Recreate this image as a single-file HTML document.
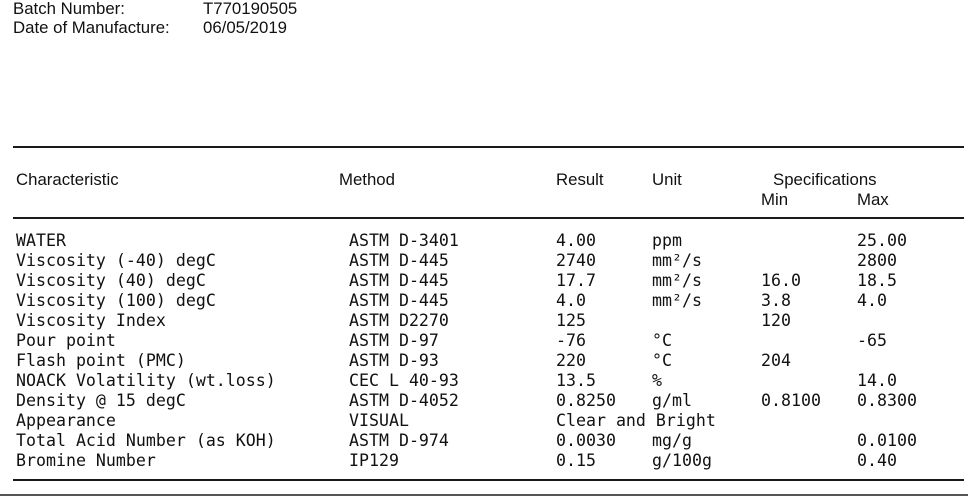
<!DOCTYPE html>
<html>
<head>
<meta charset="utf-8">
<style>
html,body{margin:0;padding:0;background:#fff;}
body{width:968px;height:496px;position:relative;overflow:hidden;color:#111;}
.s{position:absolute;font-family:"Liberation Sans",Arial,sans-serif;font-size:16.8px;line-height:20px;white-space:pre;}
.m{position:absolute;font-family:"DejaVu Sans Mono","Liberation Mono",monospace;font-size:16.6px;line-height:20px;white-space:pre;}
.hl{position:absolute;left:13px;width:951px;height:2px;background:#1a1a1a;}
</style>
</head>
<body>
<div class="s" style="left:13px;top:-1px;">Batch Number:</div>
<div class="s" style="left:203px;top:-1px;">T770190505</div>
<div class="s" style="left:13px;top:18px;">Date of Manufacture:</div>
<div class="s" style="left:203px;top:18px;">06/05/2019</div>

<div class="hl" style="top:146px;"></div>

<div class="s" style="left:16px;top:170px;">Characteristic</div>
<div class="s" style="left:339px;top:170px;">Method</div>
<div class="s" style="left:556px;top:170px;">Result</div>
<div class="s" style="left:652px;top:170px;">Unit</div>
<div class="s" style="left:773px;top:170px;">Specifications</div>
<div class="s" style="left:761px;top:190px;">Min</div>
<div class="s" style="left:857px;top:190px;">Max</div>

<div class="hl" style="top:217px;"></div>

<div class="m" style="left:16px;top:231px;">WATER
Viscosity (-40) degC
Viscosity (40) degC
Viscosity (100) degC
Viscosity Index
Pour point
Flash point (PMC)
NOACK Volatility (wt.loss)
Density @ 15 degC
Appearance
Total Acid Number (as KOH)
Bromine Number</div>

<div class="m" style="left:349px;top:231px;">ASTM D-3401
ASTM D-445
ASTM D-445
ASTM D-445
ASTM D2270
ASTM D-97
ASTM D-93
CEC L 40-93
ASTM D-4052
VISUAL
ASTM D-974
IP129</div>

<div class="m" style="left:556px;top:231px;">4.00
2740
17.7
4.0
125
-76
220
13.5
0.8250
Clear and Bright
0.0030
0.15</div>

<div class="m" style="left:652px;top:231px;">ppm
mm²/s
mm²/s
mm²/s

°C
°C
%
g/ml

mg/g
g/100g</div>

<div class="m" style="left:761px;top:231px;">

16.0
3.8
120

204

0.8100</div>

<div class="m" style="left:857px;top:231px;">25.00
2800
18.5
4.0

-65

14.0
0.8300

0.0100
0.40</div>

<div class="hl" style="top:479px;"></div>
<div style="position:absolute;left:0;top:494px;width:968px;height:2px;background:#555;"></div>
</body>
</html>
